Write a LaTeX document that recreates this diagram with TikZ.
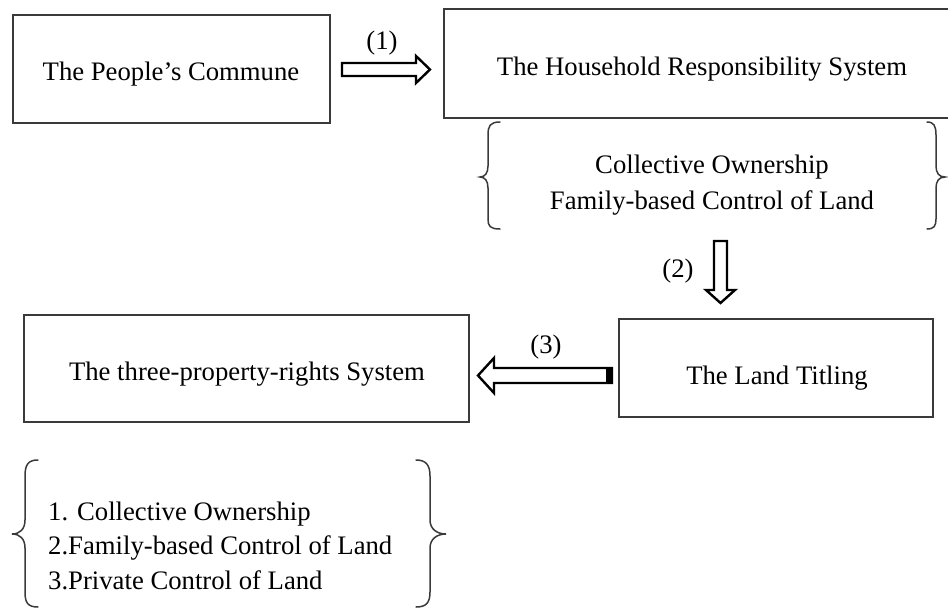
\documentclass[tikz,border=0pt]{standalone}
\usepackage{fontspec}
\setmainfont{Liberation Serif}
\definecolor{boxgray}{HTML}{3A3A3A}
\begin{document}
\begin{tikzpicture}[x=1pt,y=-1pt,
  box/.style={draw=boxgray,line width=1.3pt,inner sep=0pt,rectangle},
  txt/.style={inner sep=0pt,anchor=base,font=\fontsize{26.7}{32}\selectfont,text=black},
  lst/.style={txt,anchor=base west},
  blockarrow/.style={draw=black,fill=white,line width=2.4pt,line join=miter},
  bracepath/.style={draw=boxgray,line width=1.5pt,line cap=round}]
\useasboundingbox (0,0) rectangle (948,611);
% boxes
\node[box,minimum width=317pt,minimum height=108pt] (commune) at (171.5,69) {};
\node[box,minimum width=508pt,minimum height=109pt] (hrs) at (698,63.5) {};
\node[box,minimum width=314pt,minimum height=98pt] (titling) at (776,368) {};
\node[box,minimum width=445pt,minimum height=107pt] (three) at (246.5,368.5) {};
% box texts
\node[txt] (tcommune) at (171,80) {The People’s Commune};
\node[txt] (thrs) at (702,75) {The Household Responsibility System};
\node[txt] (ttitling) at (777,384) {The Land Titling};
\node[txt] (tthree) at (247,380) {The three-property-rights System};
% upper brace group
\node[txt] (co1) at (712,173) {Collective Ownership};
\node[txt] (fb1) at (712,209) {Family-based Control of Land};
\draw[bracepath] (500,122) .. controls (490,122) and (488,126) .. (488,135) -- (488,166)
  .. controls (488,173) and (485,177) .. (480,177) .. controls (485,177) and (488,181) .. (488,188)
  -- (488,219) .. controls (488,226) and (490,229) .. (500,229);
\draw[bracepath] (927,122) .. controls (934,122) and (936,126) .. (936,135) -- (936,166)
  .. controls (936,173) and (939,177) .. (945,177) .. controls (939,177) and (936,181) .. (936,188)
  -- (936,219) .. controls (936,226) and (934,229) .. (927,229);
% lower brace group
\node[lst] (l1) at (48,520) {1. Collective Ownership};
\node[lst] (l2) at (48,554) {2.Family-based Control of Land};
\node[lst] (l3) at (48,589) {3.Private Control of Land};
\draw[bracepath] (38,460) .. controls (28,460) and (25,465) .. (25,476) -- (25,520)
  .. controls (25,529) and (20,534) .. (12,534) .. controls (20,534) and (25,539) .. (25,548)
  -- (25,592) .. controls (25,603) and (28,607) .. (38,607);
\draw[bracepath] (416,460) .. controls (426,460) and (430,465) .. (430,476) -- (430,520)
  .. controls (430,529) and (437,534) .. (446,534) .. controls (437,534) and (430,539) .. (430,548)
  -- (430,592) .. controls (430,603) and (426,607) .. (416,607);
% arrows
\draw[blockarrow] (342,63) -- (416,63) -- (416,56) -- (430,69.5) -- (416,83) -- (416,76) -- (342,76) -- cycle;
\node[txt] (lab1) at (382,49) {(1)};
\draw[blockarrow] (714,241) -- (727,241) -- (727,290) -- (735,290) -- (720.5,303) -- (706,290) -- (714,290) -- cycle;
\node[txt] (lab2) at (678,277) {(2)};
\draw[blockarrow] (612,368) -- (494,368) -- (494,358) -- (478,375.5) -- (494,393) -- (494,383) -- (612,383) -- cycle;
\fill[black] (606,367) rectangle (613,384);
\node[txt] (lab3) at (546,353) {(3)};
\end{tikzpicture}
\end{document}
